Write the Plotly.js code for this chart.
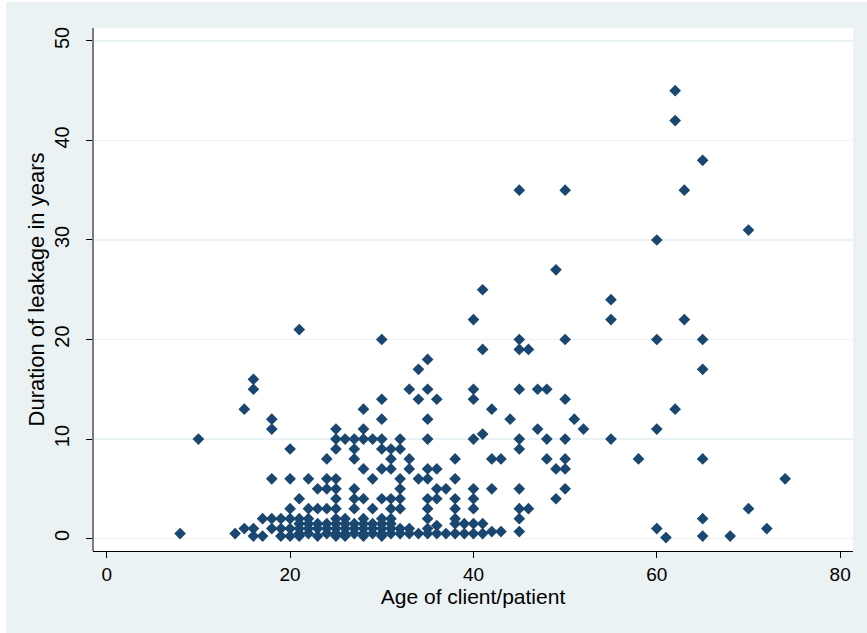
<!DOCTYPE html>
<html>
<head>
<meta charset="utf-8">
<script src="https://cdn.plot.ly/plotly-3.0.1.min.js"></script>
<style>
html, body { margin: 0; padding: 0; background: #ffffff; }
#chart { position: absolute; left: 6px; top: 2px; width: 861px; height: 631px; }
</style>
</head>
<body>
<div id="chart"></div>
<script>
// Age of client/patient (x) and duration of leakage in years (y)
const ages = [
  8,
  10,
  14,
  15, 15,
  16, 16, 16, 16,
  17, 17,
  18, 18, 18, 18, 18,
  19, 19, 19,
  20, 20, 20, 20, 20, 20,
  21, 21, 21, 21, 21, 21, 21,
  22, 22, 22, 22, 22, 22,
  23, 23, 23, 23, 23,
  24, 24, 24, 24, 24, 24, 24,
  25, 25, 25, 25, 25, 25, 25, 25, 25, 25, 25, 25,
  26, 26, 26, 26, 26, 26,
  27, 27, 27, 27, 27, 27, 27, 27, 27,
  28, 28, 28, 28, 28, 28, 28, 28, 28, 28,
  29, 29, 29, 29, 29, 29,
  30, 30, 30, 30, 30, 30, 30, 30, 30, 30, 30, 30,
  31, 31, 31, 31, 31, 31, 31, 31, 31,
  32, 32, 32, 32, 32, 32, 32, 32,
  33, 33, 33, 33, 33,
  34, 34, 34, 34,
  35, 35, 35, 35, 35, 35, 35, 35, 35, 35, 35,
  36, 36, 36, 36, 36, 36,
  37, 37,
  38, 38, 38, 38, 38, 38, 38,
  39, 39,
  40, 40, 40, 40, 40, 40, 40, 40, 40,
  41, 41, 41, 41, 41,
  42, 42, 42, 42,
  43, 43,
  44,
  45, 45, 45, 45, 45, 45, 45, 45, 45, 45,
  46, 46,
  47, 47,
  48, 48, 48,
  49, 49, 49,
  50, 50, 50, 50, 50, 50, 50,
  51,
  52,
  55, 55, 55,
  58,
  60, 60, 60, 60,
  61,
  62, 62, 62,
  63, 63,
  65, 65, 65, 65, 65, 65,
  68,
  70, 70,
  72,
  74
];
const durations = [
  0.5,
  10,
  0.5,
  13, 1,
  16, 15, 1, 0.25,
  2, 0.25,
  12, 11, 6, 2, 1,
  2, 1, 0.25,
  9, 6, 3, 2, 1, 0.25,
  21, 4, 2, 1.5, 1, 0.5, 0.25,
  6, 3, 2, 1.5, 1, 0.5,
  5, 3, 1.5, 1, 0.25,
  8, 6, 5, 3, 1.5, 1, 0.5,
  11, 10, 9, 6, 5, 4, 3, 2, 1.5, 1, 0.5, 0.25,
  10, 2, 1.5, 1, 0.5, 0.25,
  10, 9, 8, 5, 4, 3, 1.5, 1, 0.5,
  13, 11, 10, 7, 4, 2, 1.5, 1, 0.5, 0.25,
  10, 6, 3, 1.5, 1, 0.5,
  20, 14, 12, 10, 9, 7, 4, 2, 1.5, 1, 0.5, 0.25,
  9, 8, 7, 4, 3, 2, 1.5, 1, 0.5,
  10, 9, 6, 5, 4, 3, 1, 0.5,
  15, 8, 7, 1, 0.5,
  17, 14, 6, 0.5,
  18, 15, 12, 10, 7, 6, 4, 3, 2, 1, 0.5,
  14, 7, 5, 4, 1.3, 0.5,
  5, 0.5,
  8, 6, 4, 3, 2, 1.5, 0.5,
  1.5, 0.5,
  22, 15, 14, 10, 5, 4, 3, 1.5, 0.5,
  25, 19, 10.5, 1.5, 0.5,
  13, 8, 5, 0.7,
  8, 0.7,
  12,
  35, 20, 19, 15, 10, 9, 5, 3, 2, 0.7,
  19, 3,
  15, 11,
  15, 10, 8,
  27, 7, 4,
  35, 20, 14, 10, 8, 7, 5,
  12,
  11,
  24, 22, 10,
  8,
  30, 20, 11, 1,
  0.1,
  45, 42, 13,
  35, 22,
  38, 20, 17, 8, 2, 0.25,
  0.25,
  31, 3,
  1,
  6
];
const xTicks = [0, 20, 40, 60, 80];
const yTicks = [0, 10, 20, 30, 40, 50];
const xTitle = 'Age of client/patient';
const yTitle = 'Duration of leakage in years';

const FONT = '"Liberation Sans", Arial, sans-serif';
const BG = '#eaf2f3';
const NAVY = '#1a476f';

const trace = {
  type: 'scatter',
  mode: 'markers',
  x: ages,
  y: durations,
  marker: { symbol: 'diamond', size: 9, color: NAVY, line: { width: 0 } },
  hoverinfo: 'x+y',
  showlegend: false
};

const layout = {
  width: 861,
  height: 631,
  paper_bgcolor: BG,
  plot_bgcolor: '#ffffff',
  margin: { l: 87, r: 14, t: 26, b: 82, pad: 0 },
  font: { family: FONT, color: '#000000', size: 19 },
  showlegend: false,
  xaxis: {
    range: [-1.5, 81.4],
    tickmode: 'array',
    tickvals: xTicks,
    ticktext: xTicks.map(String),
    ticks: 'outside',
    ticklen: 6,
    tickwidth: 1,
    tickcolor: '#000000',
    showline: true,
    linecolor: '#000000',
    linewidth: 1,
    showgrid: false,
    zeroline: false,
    tickfont: { family: FONT, size: 19, color: '#000000' },
    title: { text: xTitle, font: { family: FONT, size: 21, color: '#000000' }, standoff: 2 },
    automargin: false
  },
  yaxis: {
    range: [-1.25, 51.3],
    tickmode: 'array',
    tickvals: yTicks,
    ticktext: yTicks.map(String),
    tickangle: -90,
    ticks: 'outside',
    ticklen: 6,
    tickwidth: 1,
    tickcolor: '#000000',
    ticklabelstandoff: 9,
    showline: false,
    showgrid: true,
    gridcolor: BG,
    gridwidth: 1.5,
    zeroline: false,
    tickfont: { family: FONT, size: 20, color: '#000000' },
    title: { text: yTitle, font: { family: FONT, size: 22, color: '#000000' }, standoff: 0 },
    automargin: false
  },
  shapes: [
    { type: 'line', xref: 'paper', x0: 0, x1: 0, yref: 'paper', y0: 0, y1: 1,
      line: { color: '#000000', width: 1 } }
  ]
};

Plotly.newPlot('chart', [trace], layout, { displayModeBar: false, staticPlot: true });
</script>
</body>
</html>
